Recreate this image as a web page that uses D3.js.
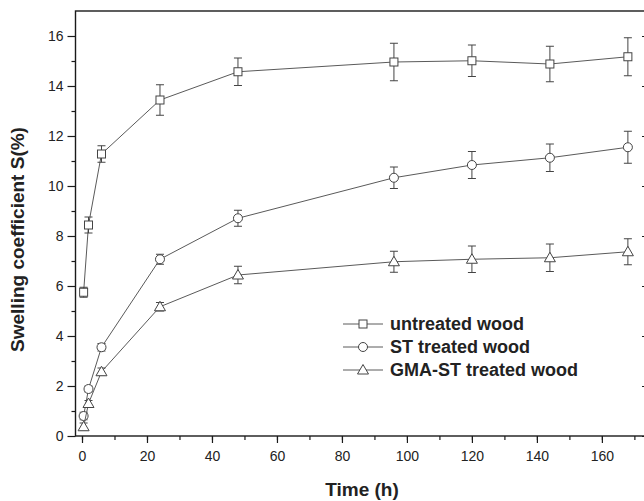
<!DOCTYPE html>
<html>
<head>
<meta charset="utf-8">
<script src="https://cdn.jsdelivr.net/npm/d3@7"></script>
<style>
  html, body { margin: 0; padding: 0; background: #fff; }
  svg { display: block; }
</style>
</head>
<body>
<script>
// data
const times = [0.5, 2, 6, 24, 48, 96, 120, 144, 168];

const untreatedMean = [5.75, 8.44, 11.28, 13.44, 14.57, 14.96, 15.01, 14.88, 15.17];
const untreatedErr  = [0.2, 0.32, 0.33, 0.61, 0.55, 0.75, 0.63, 0.71, 0.76];

const stMean = [0.8, 1.88, 3.55, 7.07, 8.71, 10.33, 10.84, 11.13, 11.55];
const stErr  = [0.15, 0.12, 0.15, 0.2, 0.32, 0.43, 0.54, 0.55, 0.64];

const gmaMean = [0.37, 1.3, 2.57, 5.17, 6.44, 6.97, 7.07, 7.13, 7.37];
const gmaErr  = [0.15, 0.12, 0.15, 0.17, 0.35, 0.42, 0.53, 0.55, 0.52];

const seriesNames = ["untreated wood", "ST treated wood", "GMA-ST treated wood"];
const seriesShapes = ["square", "circle", "triangle"];

const xTicks = [0, 20, 40, 60, 80, 100, 120, 140, 160];
const yTicks = [0, 2, 4, 6, 8, 10, 12, 14, 16];

const series = [
  { name: seriesNames[0], shape: seriesShapes[0], mean: untreatedMean, err: untreatedErr },
  { name: seriesNames[1], shape: seriesShapes[1], mean: stMean, err: stErr },
  { name: seriesNames[2], shape: seriesShapes[2], mean: gmaMean, err: gmaErr }
].map(s => ({ ...s, points: times.map((t, i) => ({ t, v: s.mean[i], e: s.err[i] })) }));

const width = 644, height = 501;
const plotLeft = 75.5, plotRight = 649, plotTop = 11, plotBottom = 436;

const x = d3.scaleLinear().domain([-2, 174.5]).range([plotLeft, plotRight]);
const y = d3.scaleLinear().domain([0, 17]).range([plotBottom, plotTop]);

const svg = d3.select("body").append("svg")
  .attr("width", width)
  .attr("height", height)
  .style("font-family", "'Liberation Sans', Arial, sans-serif");

const axisColor = "#1a1a1a";
const lineColor = "#5a5a5a";
const markColor = "#444";

// x axis (bottom), minor then major ticks
svg.append("g")
  .attr("transform", `translate(0,${plotBottom})`)
  .call(d3.axisBottom(x).tickValues(d3.range(0, 171, 10)).tickSize(4).tickFormat(""))
  .call(g => g.select(".domain").remove())
  .call(g => g.selectAll("line").attr("stroke", axisColor).attr("stroke-width", 1.2));

svg.append("g")
  .attr("transform", `translate(0,${plotBottom})`)
  .call(d3.axisBottom(x).tickValues(xTicks).tickSize(7).tickPadding(8))
  .call(g => g.select(".domain").remove())
  .call(g => g.selectAll("line").attr("stroke", axisColor).attr("stroke-width", 1.2))
  .call(g => g.selectAll("text").attr("fill", "#222").style("font-size", "14px"));

// y axis (left)
svg.append("g")
  .attr("transform", `translate(${plotLeft},0)`)
  .call(d3.axisLeft(y).tickValues(d3.range(1, 17, 2)).tickSize(4).tickFormat(""))
  .call(g => g.select(".domain").remove())
  .call(g => g.selectAll("line").attr("stroke", axisColor).attr("stroke-width", 1.2));

svg.append("g")
  .attr("transform", `translate(${plotLeft},0)`)
  .call(d3.axisLeft(y).tickValues(yTicks).tickSize(8).tickPadding(4))
  .call(g => g.select(".domain").remove())
  .call(g => g.selectAll("line").attr("stroke", axisColor).attr("stroke-width", 1.2))
  .call(g => g.selectAll("text").attr("fill", "#222").style("font-size", "14px"));

// right axis ticks point inward
svg.append("g")
  .attr("transform", `translate(${plotRight},0)`)
  .call(d3.axisLeft(y).tickValues(yTicks).tickSize(7).tickFormat(""))
  .call(g => g.select(".domain").remove())
  .call(g => g.selectAll("line").attr("stroke", axisColor).attr("stroke-width", 1.2));

// frame
svg.append("rect")
  .attr("x", plotLeft).attr("y", plotTop)
  .attr("width", plotRight - plotLeft).attr("height", plotBottom - plotTop)
  .attr("fill", "none").attr("stroke", axisColor).attr("stroke-width", 1.4);

// axis titles
svg.append("text")
  .attr("x", 362)
  .attr("y", 496)
  .attr("text-anchor", "middle")
  .attr("fill", "#222")
  .style("font-size", "19px").style("font-weight", "bold")
  .text("Time (h)");

svg.append("text")
  .attr("transform", `translate(24,${(plotTop + plotBottom) / 2 + 16}) rotate(-90)`)
  .attr("text-anchor", "middle")
  .attr("fill", "#222")
  .style("font-size", "19px").style("font-weight", "bold")
  .text("Swelling coefficient S(%)");

// markers
function drawMarker(g, shape, cx, cy) {
  if (shape === "square") {
    g.append("rect").attr("x", cx - 4).attr("y", cy - 4).attr("width", 8).attr("height", 8)
      .attr("fill", "#fff").attr("stroke", markColor).attr("stroke-width", 1);
  } else if (shape === "circle") {
    g.append("circle").attr("cx", cx).attr("cy", cy).attr("r", 4.5)
      .attr("fill", "#fff").attr("stroke", markColor).attr("stroke-width", 1);
  } else {
    g.append("path")
      .attr("d", `M${cx},${cy - 5.5}L${cx + 5.5},${cy + 4}L${cx - 5.5},${cy + 4}Z`)
      .attr("fill", "#fff").attr("stroke", markColor).attr("stroke-width", 1);
  }
}

const line = d3.line().x(d => x(d.t)).y(d => y(d.v));

for (const s of series) {
  const g = svg.append("g");

  g.append("path")
    .datum(s.points)
    .attr("d", line)
    .attr("fill", "none")
    .attr("stroke", lineColor)
    .attr("stroke-width", 1);

  // error bars
  const eb = g.selectAll("g.err").data(s.points).join("g").attr("class", "err");
  eb.append("line")
    .attr("x1", d => x(d.t)).attr("x2", d => x(d.t))
    .attr("y1", d => y(d.v - d.e)).attr("y2", d => y(d.v + d.e))
    .attr("stroke", markColor).attr("stroke-width", 1);
  eb.append("line")
    .attr("x1", d => x(d.t) - 4).attr("x2", d => x(d.t) + 4)
    .attr("y1", d => y(d.v + d.e)).attr("y2", d => y(d.v + d.e))
    .attr("stroke", markColor).attr("stroke-width", 1);
  eb.append("line")
    .attr("x1", d => x(d.t) - 4).attr("x2", d => x(d.t) + 4)
    .attr("y1", d => y(d.v - d.e)).attr("y2", d => y(d.v - d.e))
    .attr("stroke", markColor).attr("stroke-width", 1);

  for (const p of s.points) drawMarker(g, s.shape, x(p.t), y(p.v));
}

// legend
const legend = svg.append("g").attr("transform", "translate(343,324)");
series.forEach((s, i) => {
  const row = legend.append("g").attr("transform", `translate(0,${i * 23})`);
  row.append("line").attr("x1", 0).attr("x2", 40).attr("y1", 0).attr("y2", 0)
    .attr("stroke", lineColor).attr("stroke-width", 1);
  drawMarker(row, s.shape, 20, 0);
  row.append("text")
    .attr("x", 47).attr("y", 6)
    .attr("fill", "#222")
    .style("font-size", "18px").style("font-weight", "bold")
    .text(s.name);
});
</script>
</body>
</html>
